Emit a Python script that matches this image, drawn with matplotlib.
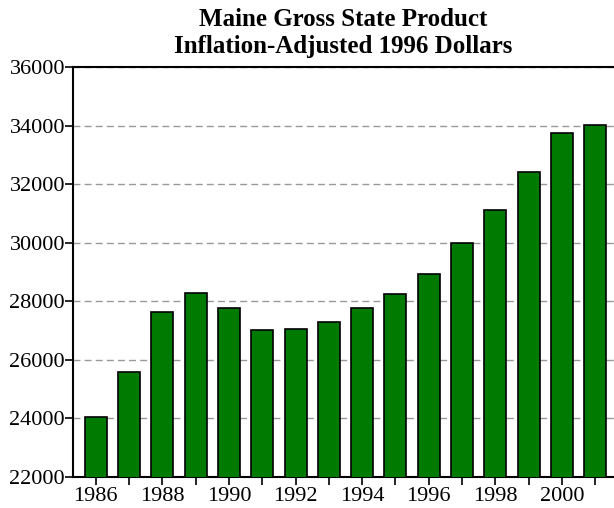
import matplotlib
matplotlib.use('Agg')
import matplotlib.pyplot as plt

# Maine gross state product, inflation-adjusted 1996 dollars
years = [1986, 1987, 1988, 1989, 1990, 1991, 1992, 1993,
         1994, 1995, 1996, 1997, 1998, 1999, 2000, 2001]
gsp = [24035, 25600, 27620, 28284, 27780, 27008, 27040, 27305,
       27770, 28263, 28923, 29990, 31130, 32400, 33760, 34025]
year_labels = [1986, 1988, 1990, 1992, 1994, 1996, 1998, 2000]
y_ticks = [22000, 24000, 26000, 28000, 30000, 32000, 34000, 36000]

plt.rcParams['font.family'] = ['Liberation Serif', 'DejaVu Serif']

fig = plt.figure(figsize=(6.14, 5.08), dpi=100)
ax = fig.add_axes([0.1194, 0.061, 0.8806, 0.807])

ax.bar(years, gsp, width=0.66, color='#007a00', edgecolor='black',
       linewidth=1.2, zorder=3)

ax.set_xlim(1985.33, 2001.56)
ax.set_ylim(22000, 36000)
ax.set_yticks(y_ticks)
ax.set_xticks(years, minor=True)
ax.set_xticks(year_labels)
ax.tick_params(axis='both', direction='out', length=6, width=1.2,
               labelsize=16, colors='black')
ax.tick_params(axis='x', which='minor', length=6, width=1.2)
ax.tick_params(axis='y', pad=0)
ax.tick_params(axis='x', pad=1)

ax.yaxis.grid(True, linestyle=(0, (5, 3)), color='#999999', linewidth=1, zorder=0)
ax.set_axisbelow(True)

for side in ['left', 'top', 'bottom']:
    ax.spines[side].set_linewidth(1.5)
ax.spines['right'].set_visible(False)

ax.set_title('Maine Gross State Product\nInflation-Adjusted 1996 Dollars',
             fontsize=18, fontweight='bold', linespacing=1.25, pad=10)

fig.savefig('out.png', dpi=100)
